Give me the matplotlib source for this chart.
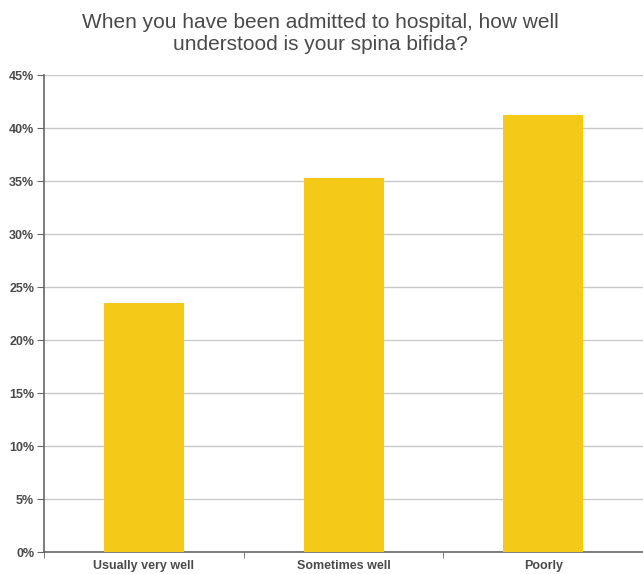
import matplotlib
matplotlib.use("Agg")
import matplotlib.pyplot as plt
from matplotlib.ticker import FixedLocator, PercentFormatter

plt.rcParams['font.family'] = ['Liberation Sans', 'DejaVu Sans']

categories = ["Usually very well", "Sometimes well", "Poorly"]
values = [23.5, 35.3, 41.2]
y_ticks = [0, 5, 10, 15, 20, 25, 30, 35, 40, 45]

title = "When you have been admitted to hospital, how well\nunderstood is your spina bifida?"

fig = plt.figure(figsize=(6.43, 5.74), dpi=100)
ax = fig.add_axes([0.0684, 0.0383, 0.932, 0.831])

x = list(range(len(categories)))
ax.bar(x, values, width=0.4, color="#F5C918", zorder=3)

ax.set_xlim(-0.5, len(categories) - 0.5)
ax.set_ylim(0, 45)
ax.set_yticks(y_ticks)
ax.yaxis.set_major_formatter(PercentFormatter(decimals=0))
ax.grid(axis="y", color="#c8c8c8", linewidth=1.0, zorder=0)

ax.set_xticks(x)
ax.set_xticklabels(categories)
ax.xaxis.set_minor_locator(FixedLocator([i + 0.5 for i in range(-1, len(categories))]))
ax.tick_params(axis="x", which="major", length=0, pad=6)
ax.tick_params(axis="x", which="minor", length=4, color="#666666", direction="out")
ax.tick_params(axis="y", length=5, color="#666666", direction="out", pad=2)

for lab in ax.get_xticklabels() + ax.get_yticklabels():
    lab.set_fontsize(9)
    lab.set_fontweight("bold")
    lab.set_color("#4a4a4a")

for side in ("top", "right"):
    ax.spines[side].set_visible(False)
for side in ("left", "bottom"):
    ax.spines[side].set_color("#666666")
    ax.spines[side].set_linewidth(1.2)

fig.text(0.498, 0.978, title, ha="center", va="top", fontsize=15,
         color="#4a4a4a", linespacing=1.2)

fig.savefig("out.png", dpi=100, facecolor="white")
